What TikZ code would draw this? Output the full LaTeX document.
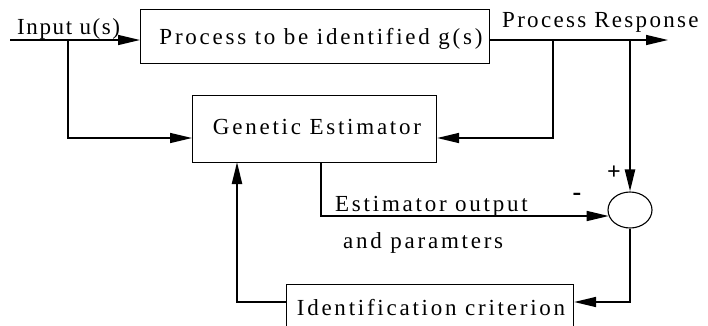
\documentclass[tikz,border=0pt]{standalone}
\usepackage{fontspec}
\setmainfont{Liberation Serif}[LetterSpace=12]
\usetikzlibrary{arrows.meta,shapes.geometric}
\begin{document}
\begin{tikzpicture}[x=1pt,y=-1pt,
  font=\fontsize{23}{27}\selectfont,
  blk/.style={draw,line width=1.1pt,inner sep=0pt,anchor=north west},
  wire/.style={line width=1.5pt},
  heavy/.style={line width=2.4pt},
  tip/.style={-{Triangle[length=22pt,width=10pt]}},
  txt/.style={inner sep=0pt,anchor=base}]
\useasboundingbox (0,0) rectangle (708,325);

% blocks
\node[blk,minimum width=349pt,minimum height=54pt] (proc) at (140,9) {};
\node[txt] at (321,44) {Process to be identified g(s)};
\node[blk,minimum width=244pt,minimum height=67pt] (est) at (192,95) {};
\node[txt] at (317,134) {Genetic Estimator};
\node[blk,minimum width=287pt,minimum height=50pt] (crit) at (286,284) {};
\node[txt] at (431,315) {Identification criterion};
\node[draw,ellipse,line width=1.1pt,minimum width=44pt,minimum height=36pt,inner sep=0pt] (sum) at (630,210) {};

% points on the wires
\coordinate (in) at (10,40);
\coordinate (ibr) at (68,40);
\coordinate (out) at (668,40);
\coordinate (obr) at (553,40);
\coordinate (sbr) at (630,40);
\coordinate (eo) at (321,162);

% input and process response
\draw[wire,tip] (in) -- (proc.west |- in);
\draw[wire,tip] (proc.east |- out) -- (out);
\draw[wire,tip] (ibr) |- (est.west |- 0,138);
\draw[wire,tip] (obr) |- (est.east |- 0,138);
\draw[heavy,tip] (sbr) -- (sum.north);

% estimator output to the summing junction
\draw[wire,tip] (eo) |- (608.7,216);

% error to criterion and back to the estimator
\draw[wire,tip] (sum.south) |- (crit.east |- 0,302);
\draw[heavy,tip] (crit.west |- 0,302) -| (237,162);

% labels
\node[txt,anchor=base west] at (17,34) {\addfontfeature{LetterSpace=7}Input u(s)};
\node[txt,anchor=base west] at (502,27) {\addfontfeature{LetterSpace=10}Process Response};
\node[txt,anchor=base west] at (335,211) {Estimator output};
\node[txt,anchor=base west] at (343,248) {and paramters};
\node[txt,anchor=center,font=\fontsize{26}{30}\selectfont\bfseries] at (577,197) {-};
\node[txt,anchor=center,font=\fontsize{24}{28}\selectfont\bfseries] at (614,173) {+};
\end{tikzpicture}
\end{document}
